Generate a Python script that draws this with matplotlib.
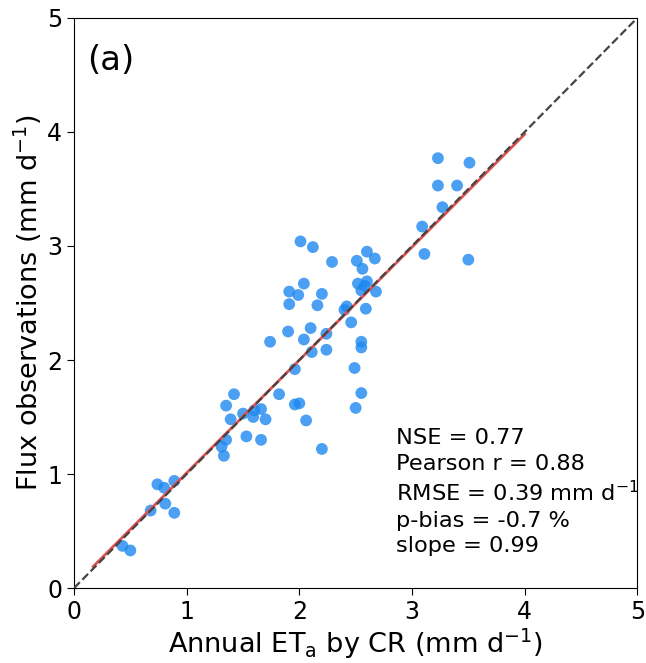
import matplotlib
matplotlib.use("Agg")
import matplotlib.pyplot as plt
import numpy as np

# Annual ET_a by CR (mm/d) and flux observations (mm/d)
et_cr = [3.23, 3.51, 3.23, 3.40, 3.27, 3.09, 3.11, 3.50,
         2.01, 2.12, 2.29, 1.91, 1.99, 2.04, 2.20, 1.91, 2.16, 1.90, 2.10, 2.04, 1.74, 2.24, 2.24, 2.11, 1.96,
         2.51, 2.60, 2.67, 2.56, 2.52, 2.60, 2.58, 2.55, 2.68, 2.42, 2.40, 2.59, 2.46, 2.55, 2.55, 2.49, 2.55, 2.50,
         1.42, 1.82, 1.35, 1.50, 1.60, 1.66, 1.39, 1.59, 1.70, 1.96, 2.00, 2.06, 1.53, 1.66, 1.35, 1.31, 1.33, 2.20,
         0.74, 0.80, 0.89, 0.68, 0.81, 0.89, 0.43, 0.50]
flux_obs = [3.77, 3.73, 3.53, 3.53, 3.34, 3.17, 2.93, 2.88,
            3.04, 2.99, 2.86, 2.60, 2.57, 2.67, 2.58, 2.49, 2.48, 2.25, 2.28, 2.18, 2.16, 2.23, 2.09, 2.07, 1.92,
            2.87, 2.95, 2.89, 2.80, 2.67, 2.69, 2.65, 2.61, 2.60, 2.47, 2.44, 2.45, 2.33, 2.16, 2.11, 1.93, 1.71, 1.58,
            1.70, 1.70, 1.60, 1.53, 1.56, 1.57, 1.48, 1.50, 1.48, 1.61, 1.62, 1.47, 1.33, 1.30, 1.30, 1.24, 1.16, 1.22,
            0.91, 0.88, 0.94, 0.68, 0.74, 0.66, 0.37, 0.33]

stats_lines = ["NSE = 0.77", "Pearson r = 0.88", "RMSE = 0.39 mm d$^{-1}$",
               "p-bias = -0.7 %", "slope = 0.99"]
fit_slope = 0.99
fit_intercept = 0.02
fit_range = [0.17, 4.0]
ticks = [0, 1, 2, 3, 4, 5]

fig = plt.figure(figsize=(6.46, 6.63), dpi=100)
ax = fig.add_axes([0.1146, 0.113, 0.872, 0.860])

ax.scatter(et_cr, flux_obs, s=72, color='#1E88F0', alpha=0.8, edgecolors='none', zorder=3)
fx = np.array(fit_range)
ax.plot(fx, fit_slope * fx + fit_intercept, color='#e05050', lw=2.0, zorder=4)
ax.plot([0, 5], [0, 5], ls='--', color='#444444', lw=1.6, zorder=5)

ax.set_xlim(0, 5)
ax.set_ylim(0, 5)
ax.set_xticks(ticks)
ax.set_yticks(ticks)
ax.tick_params(labelsize=17, length=5)
ax.set_xlabel("Annual ET$_{\\mathrm{a}}$ by CR (mm d$^{-1}$)", fontsize=19.5, labelpad=2)
ax.set_ylabel("Flux observations (mm d$^{-1}$)", fontsize=19.5, labelpad=2)

ax.text(0.023, 0.955, "(a)", transform=ax.transAxes, fontsize=24.5, va='top', ha='left')
ax.text(2.86, 1.40, "\n".join(stats_lines), fontsize=16.2, va='top', ha='left', linespacing=1.32)

fig.savefig("out.png", dpi=100)
